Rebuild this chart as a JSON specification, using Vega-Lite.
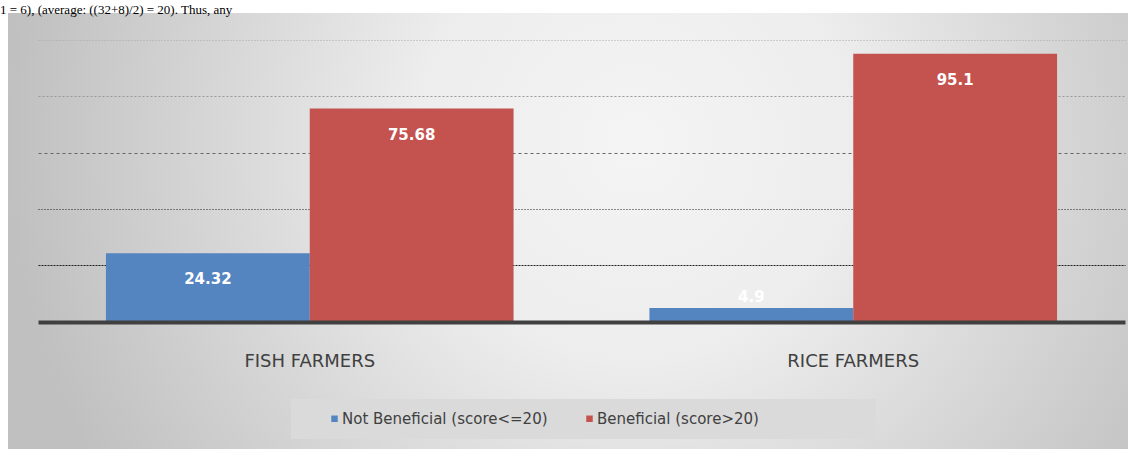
{
  "$schema": "https://vega.github.io/schema/vega-lite/v6.json",
  "width": 1120,
  "height": 436,
  "autosize": {"type": "none"},
  "padding": {"left": 8, "top": 13, "right": 8, "bottom": 0},
  "background": "white",
  "title": {
    "text": "1 = 6), (average: ((32+8)/2) = 20). Thus, any",
    "anchor": "start",
    "frame": "group",
    "offset": 3,
    "baseline": "alphabetic",
    "font": "Liberation Serif",
    "fontSize": 13,
    "fontWeight": "normal",
    "color": "black",
    "dx": -8,
    "dy": 17
  },
  "data": {
    "values": [
      {"group": "FISH FARMERS", "series": "Not Beneficial (score<=20)", "value": 24.32},
      {"group": "FISH FARMERS", "series": "Beneficial (score>20)", "value": 75.68},
      {"group": "RICE FARMERS", "series": "Not Beneficial (score<=20)", "value": 4.9},
      {"group": "RICE FARMERS", "series": "Beneficial (score>20)", "value": 95.1}
    ]
  },
  "encoding": {
    "x": {
      "field": "group",
      "type": "nominal",
      "scale": {"range": [30, 1117], "paddingInner": 0.25, "paddingOuter": 0.125},
      "axis": {
        "title": null,
        "orient": "bottom",
        "offset": -127,
        "domainColor": "#404040",
        "domainWidth": 4,
        "ticks": false,
        "labelAngle": 0,
        "labelFont": "DejaVu Sans",
        "labelFontSize": 18,
        "labelColor": "#404040",
        "labelPadding": 30,
        "grid": false,
        "zindex": 1
      }
    },
    "xOffset": {
      "field": "series",
      "type": "nominal",
      "sort": ["Not Beneficial (score<=20)", "Beneficial (score>20)"],
      "scale": {"paddingInner": 0, "paddingOuter": 0}
    },
    "y": {
      "field": "value",
      "type": "quantitative",
      "scale": {"domain": [0, 100], "range": [308.7, 27]},
      "axis": {
        "title": null,
        "labels": false,
        "ticks": false,
        "domain": false,
        "values": [20, 40, 60, 80, 100],
        "grid": true,
        "gridWidth": 1,
        "gridColor": {
          "condition": [
            {"test": "datum.value == 100", "value": "#a8a8a8"},
            {"test": "datum.value == 80", "value": "#999999"},
            {"test": "datum.value == 60", "value": "#666666"}
          ],
          "value": "#1e1e1e"
        },
        "gridDash": {
          "condition": [
            {"test": "datum.value == 100", "value": [1, 2]},
            {"test": "datum.value == 80", "value": [2, 2]},
            {"test": "datum.value == 60", "value": [3, 3]},
            {"test": "datum.value == 40", "value": [1, 2]}
          ],
          "value": [2, 1]
        }
      }
    }
  },
  "layer": [
    {
      "mark": {"type": "bar"},
      "encoding": {
        "color": {
          "field": "series",
          "type": "nominal",
          "scale": {
            "domain": ["Not Beneficial (score<=20)", "Beneficial (score>20)"],
            "range": ["#5585c1", "#c4524f"]
          },
          "legend": {
            "title": " ",
            "titleOrient": "right",
            "titleFontSize": 1,
            "titlePadding": 105,
            "orient": "none",
            "legendX": 283,
            "legendY": 386,
            "direction": "horizontal",
            "columns": 2,
            "padding": 12,
            "fillColor": "#dadada",
            "symbolType": "square",
            "symbolSize": 42,
            "symbolOffset": 24,
            "symbolStrokeWidth": 0,
            "labelFont": "DejaVu Sans",
            "labelFontSize": 15,
            "labelColor": "#404040",
            "labelOffset": 0,
            "columnPadding": 10,
            "labelLimit": 400
          }
        }
      }
    },
    {
      "transform": [{"filter": "datum.value > 10"}],
      "mark": {"type": "text", "dy": 26, "baseline": "middle", "align": "center", "font": "DejaVu Sans", "fontWeight": "bold", "fontSize": 15, "color": "white"},
      "encoding": {"text": {"field": "value", "type": "nominal"}}
    },
    {
      "transform": [{"filter": "datum.value <= 10"}],
      "mark": {"type": "text", "dy": -11, "baseline": "middle", "align": "center", "font": "DejaVu Sans", "fontWeight": "bold", "fontSize": 15, "color": "white"},
      "encoding": {"text": {"field": "value", "type": "nominal"}}
    }
  ],
  "config": {
    "view": {
      "stroke": null,
      "fill": {
        "gradient": "radial",
        "x1": 0.56, "y1": 0.42, "r1": 0,
        "x2": 0.56, "y2": 0.42, "r2": 0.56,
        "stops": [
          {"offset": 0, "color": "#f4f4f4"},
          {"offset": 0.35, "color": "#ededed"},
          {"offset": 0.65, "color": "#d8d8d8"},
          {"offset": 1, "color": "#c0c0c0"}
        ]
      }
    }
  }
}
